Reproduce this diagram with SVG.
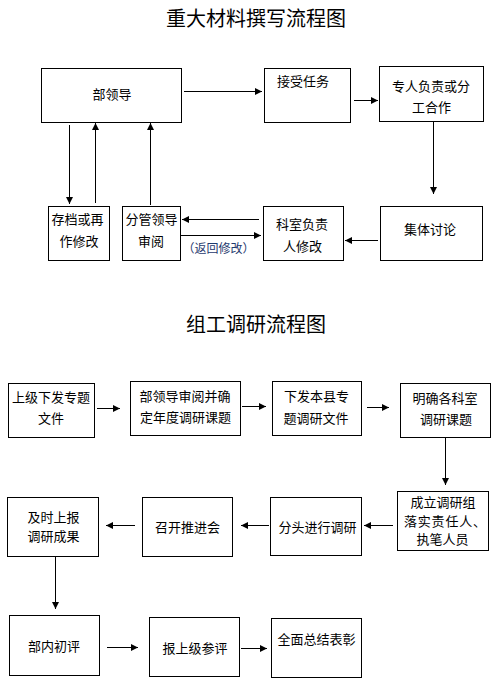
<svg xmlns="http://www.w3.org/2000/svg" width="495" height="689" viewBox="0 0 495 689">
<style>
.box{fill:#fff;stroke:#000;stroke-width:1}
.t{font-family:"Noto Sans CJK SC","Noto Sans",sans-serif;font-size:13px;fill:#000;text-anchor:middle}
.ti{font-family:"Noto Sans CJK SC","Noto Sans",sans-serif;font-size:20px;fill:#000;text-anchor:middle}
.c{stroke:#000;stroke-width:1;fill:none;marker-end:url(#ah)}
.note{font-family:"Noto Sans CJK SC","Noto Sans",sans-serif;font-size:12px;fill:#1f3a6e;text-anchor:middle}
</style>
<defs>
<marker id="ah" markerWidth="8" markerHeight="8" refX="7" refY="4" orient="auto" markerUnits="userSpaceOnUse">
<path d="M0,0.5 L7,4 L0,7.5 Z" fill="#000"/>
</marker>
</defs>
<rect width="495" height="689" fill="#fff"/>
<text class="ti" x="256" y="26">重大材料撰写流程图</text>
<text class="ti" x="256" y="332">组工调研流程图</text>

<g id="connectors">
<line class="c" x1="184" y1="91.5" x2="262" y2="91.5"/>
<line class="c" x1="354" y1="100.5" x2="378" y2="100.5"/>
<line class="c" x1="433.5" y1="121" x2="433.5" y2="194"/>
<line class="c" x1="378" y1="240.5" x2="345" y2="240.5"/>
<line class="c" x1="259" y1="219.5" x2="182" y2="219.5"/>
<line class="c" x1="181" y1="235.5" x2="261" y2="235.5"/>
<line class="c" x1="69.5" y1="125" x2="69.5" y2="204"/>
<line class="c" x1="95.5" y1="203" x2="95.5" y2="123"/>
<line class="c" x1="150.5" y1="205" x2="150.5" y2="123"/>
<line class="c" x1="97" y1="408.5" x2="120" y2="408.5"/>
<line class="c" x1="242" y1="406.5" x2="266" y2="406.5"/>
<line class="c" x1="367" y1="407.5" x2="389" y2="407.5"/>
<line class="c" x1="445.5" y1="437" x2="445.5" y2="485"/>
<line class="c" x1="393" y1="525.5" x2="364" y2="525.5"/>
<line class="c" x1="269" y1="525.5" x2="241" y2="525.5"/>
<line class="c" x1="135" y1="525.5" x2="106" y2="525.5"/>
<line class="c" x1="55.5" y1="556" x2="55.5" y2="609"/>
<line class="c" x1="107" y1="647.5" x2="138" y2="647.5"/>
<line class="c" x1="241" y1="648.5" x2="267" y2="648.5"/>
<text class="note" x="218.5" y="253">（返回修改）</text>
</g>

<g id="n1"><rect class="box" x="41.5" y="68.5" width="140" height="54"/><text class="t" x="112" y="99">部领导</text></g>
<g id="n2"><rect class="box" x="264.5" y="68.5" width="86" height="54"/><text class="t" x="277" y="86" style="text-anchor:start">接受任务</text></g>
<g id="n3"><rect class="box" x="379.5" y="66.5" width="104" height="55"/><text class="t" x="431" y="91">专人负责或分</text><text class="t" x="431.5" y="112">工合作</text></g>
<g id="n4"><rect class="box" x="48.5" y="206.5" width="61" height="54"/><text class="t" x="77.5" y="224">存档或再</text><text class="t" x="79" y="246">作修改</text></g>
<g id="n5"><rect class="box" x="122.5" y="206.5" width="58" height="54"/><text class="t" x="151.5" y="224">分管领导</text><text class="t" x="151" y="246">审阅</text></g>
<g id="n6"><rect class="box" x="263.5" y="206.5" width="80" height="54"/><text class="t" x="302" y="229">科室负责</text><text class="t" x="302.5" y="251">人修改</text></g>
<g id="n7"><rect class="box" x="380.5" y="206.5" width="102" height="54"/><text class="t" x="430" y="234">集体讨论</text></g>

<g id="m1"><rect class="box" x="8.5" y="383.5" width="86" height="54"/><text class="t" x="51" y="402">上级下发专题</text><text class="t" x="51" y="423">文件</text></g>
<g id="m2"><rect class="box" x="130.5" y="381.5" width="110" height="54"/><text class="t" x="185" y="401">部领导审阅并确</text><text class="t" x="185.5" y="422">定年度调研课题</text></g>
<g id="m3"><rect class="box" x="272.5" y="381.5" width="89" height="54"/><text class="t" x="316.5" y="401">下发本县专</text><text class="t" x="316" y="423">题调研文件</text></g>
<g id="m4"><rect class="box" x="400.5" y="383.5" width="90" height="54"/><text class="t" x="445" y="403">明确各科室</text><text class="t" x="446" y="424">调研课题</text></g>
<g id="m5"><rect class="box" x="397.5" y="491.5" width="91" height="59"/><text class="t" x="443" y="507">成立调研组</text><text class="t" x="404" y="525.5" style="text-anchor:start;letter-spacing:0.8px">落实责任人、</text><text class="t" x="442.5" y="543.5">执笔人员</text></g>
<g id="m6"><rect class="box" x="270.5" y="497.5" width="91" height="58"/><text class="t" x="317.5" y="532">分头进行调研</text></g>
<g id="m7"><rect class="box" x="142.5" y="497.5" width="90" height="59"/><text class="t" x="187.5" y="532">召开推进会</text></g>
<g id="m8"><rect class="box" x="7.5" y="497.5" width="91" height="59"/><text class="t" x="53.5" y="522">及时上报</text><text class="t" x="53.5" y="541">调研成果</text></g>
<g id="m9"><rect class="box" x="9.5" y="615.5" width="90" height="60"/><text class="t" x="54" y="651">部内初评</text></g>
<g id="m10"><rect class="box" x="149.5" y="617.5" width="90" height="59"/><text class="t" x="195" y="653">报上级参评</text></g>
<g id="m11"><rect class="box" x="271.5" y="618.5" width="90" height="59"/><text class="t" x="316.5" y="644">全面总结表彰</text></g>
</svg>
